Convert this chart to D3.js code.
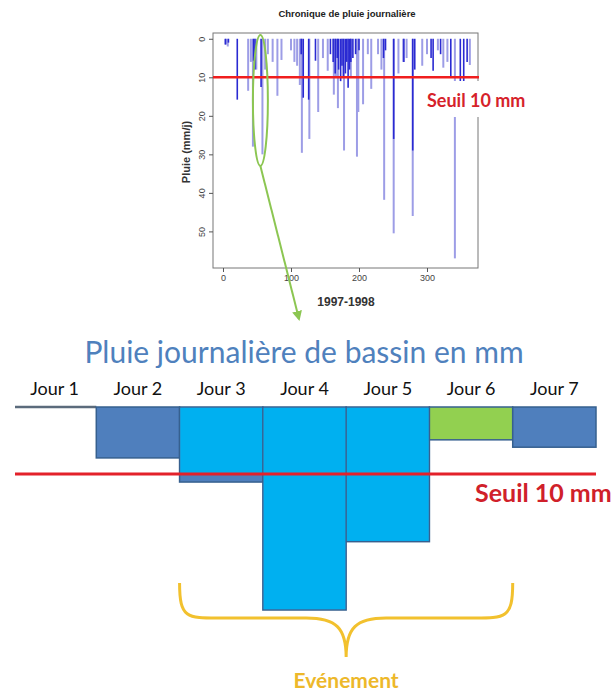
<!DOCTYPE html>
<html lang="fr">
<head>
<meta charset="utf-8">
<script src="https://d3js.org/d3.v7.min.js"></script>
<style>
body { margin: 0; background: #fff; }
svg { display: block; }
.raxis text { font: 9px "Liberation Sans", sans-serif; fill: #444; }
.raxis line { stroke: #555; }
</style>
</head>
<body>
<svg width="613" height="698"></svg>
<script>
// top chart: daily rain 1997-1998 (day of year, mm)
var lightDays = [3, 7, 37, 41, 44, 49, 58, 62, 66, 73, 80, 86, 100, 105, 109, 113, 116, 127, 140, 147, 154, 163, 166, 169, 178, 188, 197, 199, 206, 213, 218, 228, 233, 237, 251, 258, 265, 270, 279, 293, 300, 316, 324, 330, 341, 363];
var lightMm   = [1.5, 2, 13.5, 6, 28, 8, 30, 8, 4, 6, 14.8, 5.5, 3, 6, 7, 12, 29.6, 26, 19, 5, 8.3, 14.5, 10, 18, 29, 10, 30.6, 19, 17, 4, 13, 4, 8, 41.8, 50.5, 9, 6, 5, 46, 7, 4, 3, 7.5, 6, 57, 6.8];
var darkDays = [4, 8, 21, 45, 47, 56, 115, 118, 126, 136, 158, 162, 165, 168, 170, 173, 175, 177, 180, 182, 184, 186, 188, 191, 195, 200, 236, 239, 251, 266, 279, 282, 306, 309, 320, 335, 349, 354, 359];
var darkMm   = [1.5, 1, 15.8, 5.7, 8, 12.5, 4, 15.3, 15.8, 5.7, 4, 6, 9, 5, 8, 11, 7, 10, 9, 6, 12.7, 8, 6, 5, 4, 3, 5, 3, 26, 6, 29, 8, 5, 8.3, 4, 10, 11, 11, 6];
var yTicks = [0, 10, 20, 30, 40, 50];
var xTicks = [0, 100, 200, 300];
var seuil = 10;

// bottom diagram: basin daily rain (mm)
var jours = ["Jour 1", "Jour 2", "Jour 3", "Jour 4", "Jour 5", "Jour 6", "Jour 7"];
var pluie = [0, 7.6, 11.2, 30.3, 20.1, 4.9, 6.0];
var evenement = [false, false, true, true, true, false, false];
var colJour = ["none", "#4f7fbd", "#4f7fbd", "#4f7fbd", "#4f7fbd", "#92d050", "#4f7fbd"];

var svg = d3.select("svg");

// ---------- top chart ----------
var x = d3.scaleLinear().domain([-14.7, 375]).range([213, 478]);
var y = d3.scaleLinear().domain([-1.5, 59.5]).range([33, 268]);

svg.append("text")
  .attr("x", 347).attr("y", 17)
  .attr("text-anchor", "middle")
  .style("font", "bold 9.5px 'Liberation Sans', sans-serif")
  .attr("fill", "#222")
  .text("Chronique de pluie journalière");

function bars(days, mm, color, w, cls) {
  svg.selectAll("line." + cls)
    .data(days.map(function(d, i) { return {d: d, v: mm[i]}; }))
    .enter().append("line")
      .attr("class", cls)
      .attr("x1", function(d) { return x(d.d); })
      .attr("x2", function(d) { return x(d.d); })
      .attr("y1", y(0))
      .attr("y2", function(d) { return y(d.v); })
      .attr("stroke", color)
      .attr("stroke-width", w);
}
bars(lightDays, lightMm, "#9d9de6", 2, "light");
bars(darkDays, darkMm, "#2a2ad2", 1.6, "dark");

svg.append("rect")
  .attr("x", 213).attr("y", 33)
  .attr("width", 478 - 213).attr("height", 268 - 33)
  .attr("fill", "none").attr("stroke", "#777").attr("stroke-width", 1);

var ya = svg.append("g").attr("class", "raxis")
  .attr("transform", "translate(213,0)")
  .call(d3.axisLeft(y).tickValues(yTicks).tickSize(4));
ya.select(".domain").remove();
ya.selectAll("text")
  .attr("transform", "rotate(-90)")
  .attr("x", 0).attr("y", -8).attr("dy", 0)
  .attr("text-anchor", "middle");

var xa = svg.append("g").attr("class", "raxis")
  .attr("transform", "translate(0,268)")
  .call(d3.axisBottom(x).tickValues(xTicks).tickSize(4));
xa.select(".domain").remove();

svg.append("text")
  .attr("transform", "translate(190,152) rotate(-90)")
  .attr("text-anchor", "middle")
  .style("font", "bold 11px 'Liberation Sans', sans-serif")
  .attr("fill", "#333")
  .text("Pluie (mm/j)");

svg.append("text")
  .attr("x", 346).attr("y", 306)
  .attr("text-anchor", "middle")
  .style("font", "bold 12px 'Liberation Sans', sans-serif")
  .attr("fill", "#333")
  .text("1997-1998");

svg.append("line")
  .attr("x1", 213).attr("x2", 479)
  .attr("y1", y(seuil)).attr("y2", y(seuil))
  .attr("stroke", "#f01e1e").attr("stroke-width", 2.5);

var lab1 = svg.append("text")
  .attr("x", 427).attr("y", 107)
  .style("font", "bold 18px Lato, sans-serif")
  .attr("fill", "#d6222a")
  .text("Seuil 10 mm");
var bb = lab1.node().getBBox();
svg.insert("rect", function() { return lab1.node(); })
  .attr("x", bb.x - 2).attr("y", 81)
  .attr("width", bb.width + 4).attr("height", 36)
  .attr("fill", "#fff");

// green ellipse round the event, and arrow down to the diagram
svg.append("ellipse")
  .attr("cx", x(55)).attr("cy", y(16))
  .attr("rx", x(55) - x(44)).attr("ry", y(33) - y(16))
  .attr("fill", "none").attr("stroke", "#8cc652").attr("stroke-width", 2);

svg.append("defs").append("marker")
  .attr("id", "head").attr("viewBox", "0 0 10 10")
  .attr("refX", 8).attr("refY", 5)
  .attr("markerWidth", 5).attr("markerHeight", 5)
  .attr("orient", "auto")
  .append("path").attr("d", "M0,0 L10,5 L0,10 z").attr("fill", "#8cc652");

svg.append("line")
  .attr("x1", x(55)).attr("y1", y(33))
  .attr("x2", 299).attr("y2", 319)
  .attr("stroke", "#8cc652").attr("stroke-width", 2)
  .attr("marker-end", "url(#head)");

// ---------- bottom diagram ----------
var xb = d3.scaleBand().domain(jours).range([13, 596]).padding(0);
var yb = d3.scaleLinear().domain([0, seuil]).range([407, 474]);

svg.append("text")
  .attr("x", 304).attr("y", 363)
  .attr("text-anchor", "middle")
  .style("font", "30px Lato, sans-serif")
  .attr("fill", "#4f81bd")
  .text("Pluie journalière de bassin en mm");

svg.selectAll("text.jour")
  .data(jours)
  .enter().append("text")
    .attr("class", "jour")
    .attr("x", function(d) { return xb(d) + xb.bandwidth() / 2; })
    .attr("y", 395)
    .attr("text-anchor", "middle")
    .style("font", "18px Lato, sans-serif")
    .attr("fill", "#111")
    .text(function(d) { return d; });

var bw = xb.bandwidth();
var rows = jours.map(function(j, i) { return {j: j, v: pluie[i], c: colJour[i], ev: evenement[i]}; });

// zero rain: just the baseline
svg.selectAll("line.zero")
  .data(rows.filter(function(d) { return d.v === 0; }))
  .enter().append("line")
    .attr("class", "zero")
    .attr("x1", function(d) { return xb(d.j) + 2; })
    .attr("x2", function(d) { return xb(d.j) + bw; })
    .attr("y1", yb(0)).attr("y2", yb(0))
    .attr("stroke", "#5b6b7c").attr("stroke-width", 2.5);

var wet = rows.filter(function(d) { return d.v > 0; });
svg.selectAll("rect.bar")
  .data(wet)
  .enter().append("rect")
    .attr("class", "bar")
    .attr("x", function(d) { return xb(d.j); })
    .attr("y", yb(0))
    .attr("width", bw)
    .attr("height", function(d) { return yb(d.v) - yb(0); })
    .attr("fill", function(d) { return d.c; })
    .attr("stroke", "#36608f").attr("stroke-width", 1.5);

// event days filled in cyan (day 3 only down to the threshold)
svg.selectAll("rect.ev")
  .data(wet.filter(function(d) { return d.ev; }))
  .enter().append("rect")
    .attr("class", "ev")
    .attr("x", function(d) { return xb(d.j) + 0.75; })
    .attr("y", yb(0) + 0.75)
    .attr("width", bw - 1.5)
    .attr("height", function(d) {
      var v = d.v < 15 ? seuil : d.v;
      return yb(v) - yb(0) - 1.5;
    })
    .attr("fill", "#00b0f0");

svg.append("line")
  .attr("x1", 15).attr("x2", 596)
  .attr("y1", yb(seuil)).attr("y2", yb(seuil))
  .attr("stroke", "#e3212a").attr("stroke-width", 3);

svg.append("text")
  .attr("x", 475).attr("y", 502)
  .style("font", "bold 25px Lato, sans-serif")
  .attr("fill", "#d0202a")
  .text("Seuil 10 mm");

// curly brace under the event days
var bx0 = xb("Jour 3"), bx1 = xb("Jour 6") + bw, bxm = (bx0 + bx1) / 2;
var braceTop = 583, braceMid = 618, braceTip = 657;
var brace = "M" + bx0 + "," + braceTop +
  " C" + bx0 + "," + (braceMid + 2) + " " + (bx0 + 8) + "," + braceMid + " " + (bx0 + 45) + "," + braceMid +
  " L" + (bxm - 40) + "," + braceMid +
  " C" + (bxm - 10) + "," + braceMid + " " + bxm + "," + (braceMid + 10) + " " + bxm + "," + braceTip +
  " C" + bxm + "," + (braceMid + 10) + " " + (bxm + 10) + "," + braceMid + " " + (bxm + 40) + "," + braceMid +
  " L" + (bx1 - 45) + "," + braceMid +
  " C" + (bx1 - 8) + "," + braceMid + " " + bx1 + "," + (braceMid + 2) + " " + bx1 + "," + braceTop;
svg.append("path")
  .attr("d", brace)
  .attr("fill", "none").attr("stroke", "#f2c12e").attr("stroke-width", 3);

svg.append("text")
  .attr("x", bxm).attr("y", 688)
  .attr("text-anchor", "middle")
  .style("font", "bold 21px Lato, sans-serif")
  .attr("fill", "#edb82a")
  .text("Evénement");
</script>
</body>
</html>
